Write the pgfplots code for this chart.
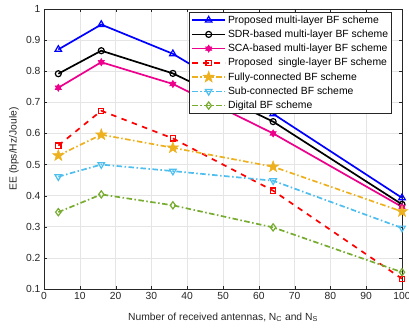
\documentclass[border=0pt]{standalone}
\usepackage{fontspec}
\setmainfont{Liberation Sans}
\usepackage{pgfplots}
\pgfplotsset{compat=1.18}
\usetikzlibrary{plotmarks}
\definecolor{morange}{rgb}{0.929,0.694,0.125}
\definecolor{mcyan}{rgb}{0.302,0.745,0.933}
\definecolor{mgreen}{rgb}{0.467,0.675,0.188}
\definecolor{tickgray}{rgb}{0.15,0.15,0.15}
\pgfdeclareplotmark{hexa}{%
  \pgfpathmoveto{\pgfqpointpolar{90}{\pgfplotmarksize}}%
  \pgfpathlineto{\pgfqpointpolar{210}{\pgfplotmarksize}}%
  \pgfpathlineto{\pgfqpointpolar{330}{\pgfplotmarksize}}%
  \pgfpathclose
  \pgfpathmoveto{\pgfqpointpolar{270}{\pgfplotmarksize}}%
  \pgfpathlineto{\pgfqpointpolar{30}{\pgfplotmarksize}}%
  \pgfpathlineto{\pgfqpointpolar{150}{\pgfplotmarksize}}%
  \pgfpathclose
  \pgfusepathqfillstroke}
\pgfdeclareplotmark{penta}{%
  \pgfpathmoveto{\pgfqpointpolar{90}{\pgfplotmarksize}}%
  \pgfpathlineto{\pgfqpointpolar{126}{0.4\pgfplotmarksize}}%
  \pgfpathlineto{\pgfqpointpolar{162}{\pgfplotmarksize}}%
  \pgfpathlineto{\pgfqpointpolar{198}{0.4\pgfplotmarksize}}%
  \pgfpathlineto{\pgfqpointpolar{234}{\pgfplotmarksize}}%
  \pgfpathlineto{\pgfqpointpolar{270}{0.4\pgfplotmarksize}}%
  \pgfpathlineto{\pgfqpointpolar{306}{\pgfplotmarksize}}%
  \pgfpathlineto{\pgfqpointpolar{342}{0.4\pgfplotmarksize}}%
  \pgfpathlineto{\pgfqpointpolar{18}{\pgfplotmarksize}}%
  \pgfpathlineto{\pgfqpointpolar{54}{0.4\pgfplotmarksize}}%
  \pgfpathclose
  \pgfusepathqfillstroke}
\begin{document}
\begin{tikzpicture}
\useasboundingbox (-44pt,-39pt) rectangle (365pt,289pt);
\begin{axis}[
  scale only axis,
  width=358pt, height=280pt,
  xmin=0, xmax=100, ymin=0.1, ymax=1,
  xtick={0,10,...,100},
  ytick={0.1,0.2,...,1.0},
  yticklabels={0.1,0.2,0.3,0.4,0.5,0.6,0.7,0.8,0.9,1},
  grid=major,
  major grid style={gray!20, line width=0.6pt},
  axis line style={tickgray, line width=0.7pt},
  tick style={tickgray},
  tick align=inside,
  major tick length=3pt,
  ticklabel style={font=\fontsize{10.3}{12}\selectfont, text=tickgray},
  /pgf/number format/assume math mode=true,
  label style={font=\fontsize{10.3}{12}\selectfont, text=tickgray},
  xlabel={Number of received antennas, N\textsubscript{C} and N\textsubscript{S}},
  ylabel={EE (bps/Hz/Joule)},
  xlabel style={at={(axis description cs:0.5,0)}, anchor=center, yshift=-28.5pt},
  ylabel style={at={(axis description cs:-0.084,0.5)}, anchor=center},
  legend style={at={(rel axis cs:0.972,0.99)}, anchor=north east,
    font=\fontsize{10.4}{12}\selectfont, draw=tickgray, line width=0.7pt,
    inner sep=1.5pt, row sep=1.2pt, cells={anchor=west}},
  legend image post style={line width=1.7pt},
  legend image code/.code={\draw[mark repeat=2,mark phase=2] plot coordinates {(0cm,0cm) (0.58cm,0cm) (1.16cm,0cm)};},
]
\addplot[blue, line width=1.7pt, mark=triangle, mark size=3.8pt, mark options={solid, line width=1.2pt}] coordinates {(4,0.870) (16,0.950) (36,0.856) (64,0.663) (100,0.393)};
\addlegendentry{Proposed multi-layer BF scheme}
\addplot[black, line width=1.7pt, mark=o, mark size=3pt, mark options={solid, line width=1.2pt}] coordinates {(4,0.792) (16,0.866) (36,0.793) (64,0.638) (100,0.372)};
\addlegendentry{SDR-based multi-layer BF scheme}
\addplot[magenta, line width=1.7pt, mark=hexa, mark size=3.6pt, mark options={solid, fill=magenta, line width=0.6pt}] coordinates {(4,0.747) (16,0.829) (36,0.759) (64,0.600) (100,0.364)};
\addlegendentry{SCA-based multi-layer BF scheme}
\addplot[red, line width=1.7pt, dash pattern=on 5.5pt off 5.5pt, mark=square, mark size=2.6pt, mark options={solid, line width=1.2pt}] coordinates {(4,0.561) (16,0.673) (36,0.584) (64,0.416) (100,0.133)};
\addlegendentry{Proposed\ \ single-layer BF scheme}
\addplot[morange, line width=1.7pt, dash pattern=on 5.5pt off 2.5pt on 1.5pt off 2.5pt, mark=penta, mark size=6pt, mark options={solid, fill=morange, line width=0.5pt}] coordinates {(4,0.529) (16,0.596) (36,0.554) (64,0.493) (100,0.349)};
\addlegendentry{Fully-connected BF scheme}
\addplot[mcyan, line width=1.7pt, dash pattern=on 5.5pt off 2.5pt on 1.5pt off 2.5pt, mark=triangle, mark size=3.8pt, mark options={solid, rotate=180, line width=1.2pt}] coordinates {(4,0.461) (16,0.500) (36,0.479) (64,0.448) (100,0.296)};
\addlegendentry{Sub-connected BF scheme}
\addplot[mgreen, line width=1.7pt, dash pattern=on 5.5pt off 2.5pt on 1.5pt off 2.5pt, mark=diamond, mark size=3.6pt, mark options={solid, line width=1.2pt}] coordinates {(4,0.347) (16,0.404) (36,0.369) (64,0.298) (100,0.154)};
\addlegendentry{Digital BF scheme}
\end{axis}
\end{tikzpicture}
\end{document}
